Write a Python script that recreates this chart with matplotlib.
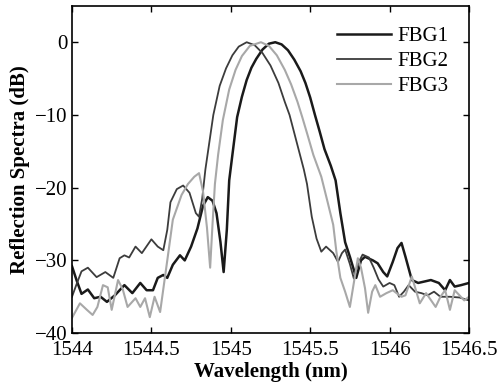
import matplotlib
matplotlib.use("Agg")
import matplotlib.pyplot as plt

plt.rcParams['font.family'] = ['Liberation Serif', 'DejaVu Serif']

# FBG1 (darkest, peak ~1545.28 nm)
fbg1_x = [1544.00, 1544.03, 1544.06, 1544.10, 1544.14, 1544.18, 1544.22, 1544.27, 1544.33, 1544.38,
          1544.43, 1544.47, 1544.51, 1544.54, 1544.575, 1544.60, 1544.635, 1544.68, 1544.71, 1544.75,
          1544.79, 1544.825, 1544.855, 1544.885, 1544.91, 1544.935, 1544.955, 1544.975, 1544.99, 1545.01,
          1545.04, 1545.07, 1545.10, 1545.13, 1545.16, 1545.20, 1545.24, 1545.28, 1545.32, 1545.36,
          1545.40, 1545.44, 1545.47, 1545.50, 1545.53, 1545.56, 1545.59, 1545.63, 1545.66, 1545.69,
          1545.72, 1545.75, 1545.79, 1545.82, 1545.845, 1545.895, 1545.925, 1545.96, 1545.985, 1546.02,
          1546.05, 1546.075, 1546.10, 1546.14, 1546.18, 1546.22, 1546.26, 1546.31, 1546.35, 1546.38,
          1546.41, 1546.45, 1546.50]
fbg1_y = [-30.8, -32.8, -34.6, -34.0, -35.2, -35.0, -35.7, -34.8, -33.4, -34.5,
          -33.1, -34.1, -34.1, -32.4, -32.0, -32.4, -30.6, -29.3, -30.0, -28.1,
          -25.6, -22.5, -21.3, -21.8, -23.5, -27.5, -31.6, -25.8, -19.0, -15.5,
          -10.3, -7.5, -5.2, -3.5, -2.3, -1.0, -0.2, 0.0, -0.3, -1.1,
          -2.4, -4.0, -5.6, -7.6, -10.0, -12.3, -14.7, -17.0, -19.0, -23.5,
          -27.5, -29.5, -32.4, -30.0, -29.5, -30.0, -30.4, -31.6, -32.2, -30.2,
          -28.3, -27.6, -29.5, -32.7, -33.1, -32.9, -32.7, -33.1, -34.1, -32.7,
          -33.6, -33.4, -33.1]

# FBG2 (dark grey, peak ~1545.10 nm)
fbg2_x = [1544.00, 1544.03, 1544.06, 1544.10, 1544.155, 1544.21, 1544.26, 1544.30, 1544.33, 1544.36,
          1544.40, 1544.44, 1544.50, 1544.54, 1544.575, 1544.60, 1544.62, 1544.66, 1544.70, 1544.74,
          1544.78, 1544.80, 1544.82, 1544.84, 1544.86, 1544.89, 1544.93, 1544.97, 1545.01, 1545.05,
          1545.10, 1545.15, 1545.20, 1545.25, 1545.30, 1545.34, 1545.37, 1545.40, 1545.43, 1545.46,
          1545.48, 1545.51, 1545.54, 1545.57, 1545.60, 1545.645, 1545.675, 1545.70, 1545.72, 1545.75,
          1545.775, 1545.80, 1545.83, 1545.87, 1545.90, 1545.93, 1545.96, 1546.00, 1546.03, 1546.06,
          1546.09, 1546.12, 1546.16, 1546.20, 1546.24, 1546.28, 1546.32, 1546.38, 1546.44, 1546.50]
fbg2_y = [-35.0, -33.2, -31.5, -31.0, -32.3, -31.6, -32.4, -29.7, -29.3, -29.6,
          -28.1, -29.0, -27.1, -28.1, -28.6, -25.8, -22.0, -20.2, -19.7, -20.7,
          -23.5, -24.0, -21.5, -17.5, -14.5, -10.0, -6.0, -3.6, -1.8, -0.6,
          0.0, -0.4, -1.5, -3.2, -5.6, -8.2, -10.0, -12.5, -15.0, -17.5,
          -19.5, -24.0, -27.0, -28.8, -28.1, -29.0, -30.2, -29.0, -28.5, -30.5,
          -32.5, -30.5, -29.2, -29.6, -31.0, -32.6, -33.6, -33.1, -33.4, -35.0,
          -34.3, -33.4, -34.3, -34.5, -34.8, -34.3, -35.0, -35.0, -35.1, -35.5]

# FBG3 (light grey, peak ~1545.19 nm)
fbg3_x = [1544.00, 1544.05, 1544.094, 1544.13, 1544.16, 1544.195, 1544.225, 1544.25, 1544.29, 1544.32,
          1544.35, 1544.40, 1544.43, 1544.46, 1544.49, 1544.52, 1544.555, 1544.60, 1544.635, 1544.69,
          1544.73, 1544.77, 1544.80, 1544.825, 1544.85, 1544.87, 1544.885, 1544.90, 1544.92, 1544.95,
          1544.99, 1545.03, 1545.07, 1545.12, 1545.19, 1545.24, 1545.29, 1545.34, 1545.38, 1545.42,
          1545.45, 1545.48, 1545.52, 1545.57, 1545.61, 1545.645, 1545.665, 1545.69, 1545.72, 1545.75,
          1545.78, 1545.80, 1545.82, 1545.845, 1545.865, 1545.89, 1545.91, 1545.94, 1545.98, 1546.02,
          1546.05, 1546.075, 1546.10, 1546.14, 1546.19, 1546.23, 1546.29, 1546.32, 1546.35, 1546.38,
          1546.41, 1546.47, 1546.50]
fbg3_y = [-37.9, -35.9, -36.8, -37.5, -36.4, -33.4, -33.7, -36.8, -32.7, -34.0,
          -36.4, -35.2, -36.4, -35.2, -37.8, -35.0, -37.1, -30.0, -24.4, -21.0,
          -19.5, -18.5, -18.0, -20.5, -25.5, -31.0, -25.0, -19.5, -15.5, -10.7,
          -6.5, -3.8, -1.9, -0.5, 0.0, -0.5, -1.8, -3.8, -5.8, -8.2,
          -10.3, -12.5, -15.5, -18.5, -22.0, -25.1, -28.8, -32.4, -34.3, -36.4,
          -32.4, -29.7, -31.0, -33.8, -37.2, -34.3, -33.4, -35.0, -34.5, -34.1,
          -34.6, -35.0, -34.8, -32.2, -35.9, -34.5, -36.4, -35.0, -34.1, -36.8,
          -34.1, -35.5, -35.0]

labels = ['FBG1', 'FBG2', 'FBG3']
xticks = [1544, 1544.5, 1545, 1545.5, 1546, 1546.5]
xticklabels = ['1544', '1544.5', '1545', '1545.5', '1546', '1546.5']
yticks = [-40, -30, -20, -10, 0]

fig = plt.figure(figsize=(5.01, 3.91), dpi=100)
ax = fig.add_axes([0.1437, 0.148, 0.7924, 0.837])

ax.plot(fbg1_x, fbg1_y, color='#1a1a1a', lw=1.8, label=labels[0])
ax.plot(fbg2_x, fbg2_y, color='#3c3c3c', lw=1.3, label=labels[1])
ax.plot(fbg3_x, fbg3_y, color='#a8a8a8', lw=1.5, label=labels[2])

ax.set_xlim(1544, 1546.5)
ax.set_ylim(-40, 5)
ax.set_xticks(xticks)
ax.set_xticklabels(xticklabels)
ax.set_yticks(yticks)
ax.tick_params(direction='in', top=True, right=True, length=4.5, width=1, labelsize=15)
ax.tick_params(axis='x', pad=6)
ax.tick_params(axis='y', pad=3)
for s in ax.spines.values():
    s.set_linewidth(1.2)

ax.set_xlabel('Wavelength (nm)', fontsize=15, fontweight='bold', labelpad=1)
ax.set_ylabel('Reflection Spectra (dB)', fontsize=15, fontweight='bold', labelpad=4)

ax.legend(loc='upper right', frameon=False, fontsize=15, handlelength=2.6,
          handletextpad=0.3, labelspacing=0.25, borderaxespad=0.6)

fig.savefig('out.png', dpi=100)
